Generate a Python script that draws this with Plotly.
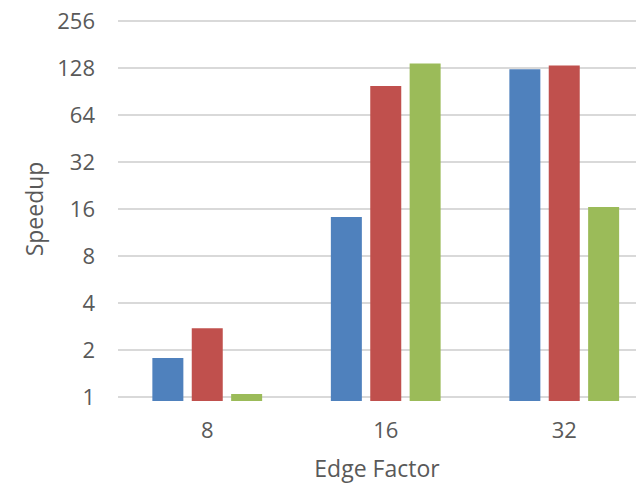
import plotly.graph_objects as go

categories = ["8", "16", "32"]
series_a = [1.78, 14.2, 125.6]
series_b = [2.76, 98.3, 132.7]
series_c = [1.045, 136.6, 16.5]
y_ticks = [1, 2, 4, 8, 16, 32, 64, 128, 256]
y_tick_labels = ["1", "2", "4", "8", "16", "32", "64", "128", "256"]

colors = ["#4F81BD", "#C0504D", "#9BBB59"]
names = ["Series 1", "Series 2", "Series 3"]

fig = go.Figure()
for name, vals, col in zip(names, [series_a, series_b, series_c], colors):
    fig.add_trace(go.Bar(x=categories, y=vals, name=name,
                         marker=dict(color=col, line=dict(width=0))))

font_family = "Open Sans, Noto Sans, sans-serif"
fs = 22
ext = 0.0256
fig.update_layout(
    width=636, height=484,
    margin=dict(l=118, r=0, t=16.7, b=82.7, autoexpand=False),
    paper_bgcolor="white", plot_bgcolor="white",
    barmode="group", bargap=0.338, bargroupgap=0.213,
    showlegend=False,
    font=dict(family=font_family, color="#595959", size=fs),
)
fig.update_xaxes(
    type="category", range=[-0.5, 2.402], automargin=False,
    showgrid=False, showline=False, zeroline=False,
    ticks="", ticklabelstandoff=14, ticklabeloverflow="allow",
    tickfont=dict(size=fs, color="#595959"),
    title=dict(text="Edge Factor", font=dict(size=23, color="#595959"), standoff=22),
)
fig.update_yaxes(
    type="log", range=[-ext, 2.40824 + ext], automargin=False,
    tickvals=y_ticks, ticktext=y_tick_labels,
    showgrid=True, gridcolor="#D9D9D9", gridwidth=1.5,
    showline=False, zeroline=False, ticks="",
    ticklabelstandoff=22, ticklabeloverflow="allow",
    tickfont=dict(size=fs, color="#595959"),
    title=dict(text="Speedup", font=dict(size=23, color="#595959"), standoff=7),
)
fig.write_html("out.html",
               config={"displayModeBar": False, "staticPlot": True},
               post_script="document.body.style.margin='0';document.body.style.overflow='hidden';")
